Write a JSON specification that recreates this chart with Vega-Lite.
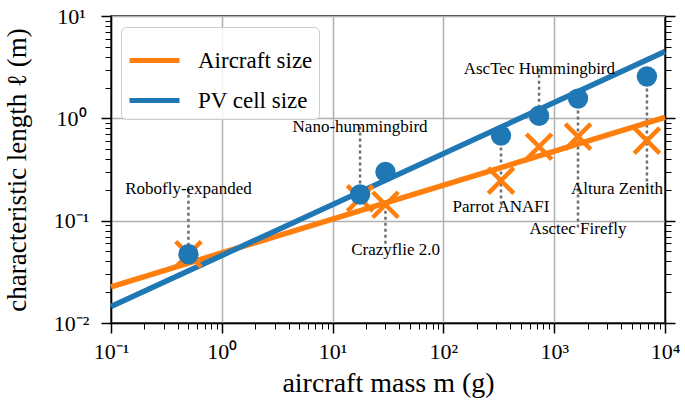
{
  "$schema": "https://vega.github.io/schema/vega-lite/v6.json",
  "width": 554,
  "height": 307,
  "autosize": {"type": "none"},
  "padding": {"left": 111, "top": 16, "right": 20, "bottom": 85},
  "config": {
    "view": {"stroke": "black", "strokeWidth": 1.5},
    "font": "Liberation Serif"
  },
  "datasets": {
    "fits": [
      {"series": "Aircraft size", "mass": 0.1, "len": 0.0226},
      {"series": "Aircraft size", "mass": 10000, "len": 1.02},
      {"series": "PV cell size", "mass": 0.1, "len": 0.0145},
      {"series": "PV cell size", "mass": 10000, "len": 4.49}
    ],
    "aircraft": [
      {"name": "Robofly-expanded", "mass": 0.5, "pv": 0.047, "size": 0.047, "tx": 0.5, "ty": 0.205, "y1": 0.205, "y2": 0.047},
      {"name": "Nano-hummingbird", "mass": 17.7, "pv": 0.18, "size": 0.165, "tx": 17.7, "ty": 0.83, "y1": 0.83, "y2": 0.18},
      {"name": "Crazyflie 2.0", "mass": 30, "pv": 0.3, "size": 0.143, "tx": 37, "ty": 0.052, "y1": 0.143, "y2": 0.058},
      {"name": "Parrot ANAFI", "mass": 331, "pv": 0.678, "size": 0.246, "tx": 331, "ty": 0.137, "y1": 0.678, "y2": 0.137},
      {"name": "AscTec Hummingbird", "mass": 730, "pv": 1.06, "size": 0.528, "tx": 735, "ty": 3.06, "y1": 3.06, "y2": 1.06},
      {"name": "Asctec Firefly", "mass": 1640, "pv": 1.56, "size": 0.662, "tx": 1640, "ty": 0.0835, "y1": 1.56, "y2": 0.0835},
      {"name": "Altura Zenith", "mass": 6870, "pv": 2.56, "size": 0.605, "tx": 3690, "ty": 0.206, "y1": 2.56, "y2": 0.2}
    ]
  },
  "layer": [
    {
      "layer": [
        {
          "data": {"name": "aircraft"},
          "mark": {"type": "rule", "color": "#6f6f6f", "strokeWidth": 2.5, "strokeDash": [3, 3]},
          "encoding": {
            "x": {
              "field": "mass", "type": "quantitative",
              "scale": {"type": "log", "domain": [0.1, 10000], "nice": false},
              "axis": {
                "title": "aircraft mass m (g)",
                "values": [0.1,0.2,0.3,0.4,0.5,0.6,0.7,0.8,0.9,1,2,3,4,5,6,7,8,9,10,20,30,40,50,60,70,80,90,100,200,300,400,500,600,700,800,900,1000,2000,3000,4000,5000,6000,7000,8000,9000,10000],
                "labelExpr": "datum.value == 0.1 ? '10⁻¹' : datum.value == 1 ? '10⁰' : datum.value == 10 ? '10¹' : datum.value == 100 ? '10²' : datum.value == 1000 ? '10³' : datum.value == 10000 ? '10⁴' : ''",
                "labelFlush": false,
                "labelOverlap": false,
                "labelFont": "Liberation Serif",
                "labelFontSize": 22,
                "labelColor": "black",
                "labelPadding": 8,
                "tickColor": "black",
                "tickSize": {"condition": {"test": "indexof([0.1,1,10,100,1000,10000], datum.value) >= 0", "value": 10}, "value": 6},
                "tickWidth": {"condition": {"test": "indexof([0.1,1,10,100,1000,10000], datum.value) >= 0", "value": 1.5}, "value": 1},
                "domainColor": "black",
                "domainWidth": 1.5,
                "grid": true,
                "gridColor": "#b0b0b0",
                "gridWidth": 1.5,
                "gridOpacity": {"condition": {"test": "indexof([0.1,1,10,100,1000,10000], datum.value) >= 0", "value": 1}, "value": 0},
                "titleFont": "Liberation Serif",
                "titleFontSize": 28,
                "titleFontWeight": "normal",
                "titleColor": "black",
                "titlePadding": 7
              }
            },
            "y": {
              "field": "y1", "type": "quantitative",
              "scale": {"type": "log", "domain": [0.01, 10], "nice": false},
              "axis": {
                "title": "characteristic length ℓ (m)",
                "values": [0.01,0.02,0.03,0.04,0.05,0.06,0.07,0.08,0.09,0.1,0.2,0.3,0.4,0.5,0.6,0.7,0.8,0.9,1,2,3,4,5,6,7,8,9,10],
                "labelExpr": "datum.value == 0.01 ? '10⁻²' : datum.value == 0.1 ? '10⁻¹' : datum.value == 1 ? '10⁰' : datum.value == 10 ? '10¹' : ''",
                "labelFlush": false,
                "labelOverlap": false,
                "labelFont": "Liberation Serif",
                "labelFontSize": 22,
                "labelColor": "black",
                "labelAlign": "center",
                "labelBaseline": "middle",
                "labelPadding": 30,
                "tickColor": "black",
                "tickSize": {"condition": {"test": "indexof([0.01,0.1,1,10], datum.value) >= 0", "value": 10}, "value": 6},
                "tickWidth": {"condition": {"test": "indexof([0.01,0.1,1,10], datum.value) >= 0", "value": 1.5}, "value": 1},
                "domainColor": "black",
                "domainWidth": 1.5,
                "grid": true,
                "gridColor": "#b0b0b0",
                "gridWidth": 1.5,
                "gridOpacity": {"condition": {"test": "indexof([0.01,0.1,1,10], datum.value) >= 0", "value": 1}, "value": 0},
                "titleFont": "Liberation Serif",
                "titleFontSize": 27,
                "titleFontWeight": "normal",
                "titleColor": "black",
                "titlePadding": 22
              }
            },
            "y2": {"field": "y2"}
          }
        },
        {
          "data": {"name": "fits"},
          "mark": {"type": "line", "strokeWidth": 5.5},
          "encoding": {
            "x": {"field": "mass", "type": "quantitative", "scale": {"type": "log", "domain": [0.1, 10000], "nice": false}},
            "y": {"field": "len", "type": "quantitative", "scale": {"type": "log", "domain": [0.01, 10], "nice": false}},
            "color": {
              "field": "series", "type": "nominal",
              "scale": {"domain": ["Aircraft size", "PV cell size"], "range": ["#ff7f0e", "#1f77b4"]},
              "legend": {
                "title": null,
                "orient": "none",
                "legendX": 10,
                "legendY": 11,
                "symbolType": "stroke",
                "symbolStrokeWidth": 5,
                "symbolSize": 2500,
                "labelFont": "Liberation Serif",
                "labelFontSize": 23,
                "labelColor": "black",
                "labelOffset": 16,
                "rowPadding": -16,
                "padding": 6,
                "fillColor": "rgba(255,255,255,0.85)",
                "strokeColor": "#cccccc",
                "cornerRadius": 5
              }
            }
          }
        },
        {
          "data": {"name": "aircraft"},
          "mark": {"type": "point", "shape": "M-1,-1L1,1M-1,1L1,-1", "filled": false, "stroke": "#ff7f0e", "strokeWidth": 4.5, "size": 650, "opacity": 1},
          "encoding": {
            "x": {"field": "mass", "type": "quantitative", "scale": {"type": "log", "domain": [0.1, 10000], "nice": false}},
            "y": {"field": "size", "type": "quantitative", "scale": {"type": "log", "domain": [0.01, 10], "nice": false}}
          }
        },
        {
          "data": {"name": "aircraft"},
          "mark": {"type": "circle", "color": "#1f77b4", "size": 415, "opacity": 1},
          "encoding": {
            "x": {"field": "mass", "type": "quantitative", "scale": {"type": "log", "domain": [0.1, 10000], "nice": false}},
            "y": {"field": "pv", "type": "quantitative", "scale": {"type": "log", "domain": [0.01, 10], "nice": false}}
          }
        },
        {
          "data": {"name": "aircraft"},
          "mark": {"type": "text", "font": "Liberation Serif", "fontSize": 17, "color": "black", "align": "center", "baseline": "middle"},
          "encoding": {
            "x": {"field": "tx", "type": "quantitative", "scale": {"type": "log", "domain": [0.1, 10000], "nice": false}},
            "y": {"field": "ty", "type": "quantitative", "scale": {"type": "log", "domain": [0.01, 10], "nice": false}},
            "text": {"field": "name"}
          }
        }
      ]
    },
    {
      "data": {"name": "fits"},
      "mark": {"type": "point", "opacity": 0},
      "encoding": {
        "x": {"field": "mass", "type": "quantitative", "scale": {"type": "log", "domain": [0.1, 10000], "nice": false}},
        "y": {
          "field": "len", "type": "quantitative",
          "scale": {"type": "log", "domain": [0.01, 10], "nice": false},
          "axis": {
            "orient": "right",
            "title": null,
            "labels": false,
            "grid": false,
            "values": [0.01,0.02,0.03,0.04,0.05,0.06,0.07,0.08,0.09,0.1,0.2,0.3,0.4,0.5,0.6,0.7,0.8,0.9,1,2,3,4,5,6,7,8,9,10],
            "tickColor": "black",
            "tickSize": {"condition": {"test": "indexof([0.01,0.1,1,10], datum.value) >= 0", "value": 10}, "value": 6},
            "tickWidth": {"condition": {"test": "indexof([0.01,0.1,1,10], datum.value) >= 0", "value": 1.5}, "value": 1},
            "domainColor": "black",
            "domainWidth": 1.5
          }
        }
      }
    }
  ],
  "resolve": {"scale": {"y": "independent"}}
}
